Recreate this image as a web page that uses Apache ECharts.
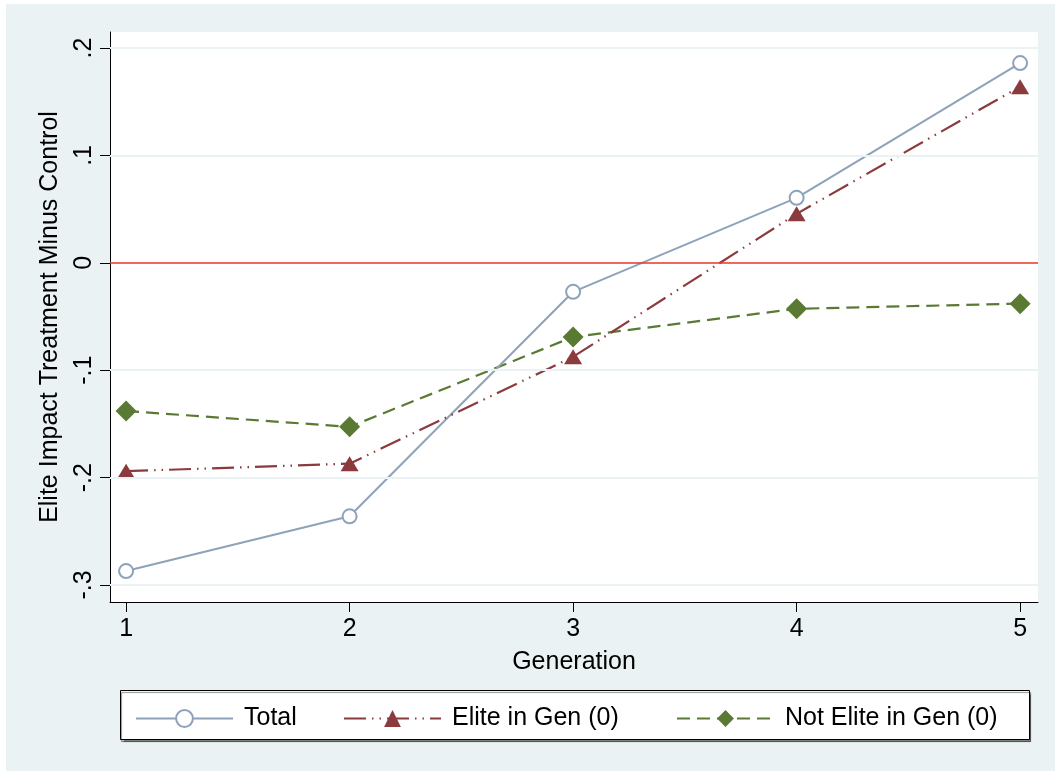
<!DOCTYPE html>
<html><head><meta charset="utf-8">
<script src="https://cdn.jsdelivr.net/npm/echarts@6/dist/echarts.min.js"></script>
<style>html,body{margin:0;padding:0;background:#fff;}#c{width:1055px;height:771px;}</style>
</head><body><div id="c"></div>
<script>
const generations = [1, 2, 3, 4, 5];
const yTicks = [-0.3, -0.2, -0.1, 0, 0.1, 0.2];
const totalValues = [-0.287, -0.236, -0.027, 0.0605, 0.186];
const eliteValues = [-0.194, -0.187, -0.0875, 0.0456, 0.164];
const notEliteValues = [-0.138, -0.1527, -0.069, -0.0428, -0.038];
const seriesNames = ['Total', 'Elite in Gen (0)', 'Not Elite in Gen (0)'];

const FONT = 'Liberation Sans, Arial, Helvetica, sans-serif';
const BG = '#EAF2F3';
const pair = (xs, ys) => xs.map((x, i) => [x, ys[i]]);
const fmtY = v => { const r = Math.round(v * 10) / 10; if (r === 0) return '0'; return (r < 0 ? '-' : '') + String(Math.abs(r)).replace(/^0/, ''); };

const chart = echarts.init(document.getElementById('c'), null, {renderer: 'canvas'});
const legendCommon = {
  top: 701, itemWidth: 97, itemHeight: 21, itemGap: 0,
  textStyle: {fontFamily: FONT, fontSize: 25, color: '#000', padding: [0, 0, 0, 6]}
};
chart.setOption({
  backgroundColor: 'transparent',
  animation: false,
  graphic: [
    {type: 'rect', z: -10, shape: {x: 6, y: 4, width: 1049, height: 767}, style: {fill: BG}},
    {type: 'rect', z: -9, shape: {x: 110, y: 32, width: 928, height: 570}, style: {fill: '#fff'}},
    {type: 'rect', z: -8, shape: {x: 120.5, y: 690.5, width: 909, height: 49}, style: {fill: '#fff', stroke: '#000', lineWidth: 1, shadowColor: 'rgba(0,0,0,0.45)', shadowOffsetX: 1, shadowOffsetY: 2, shadowBlur: 1}}
  ],
  grid: {left: 110, right: 17, top: 32, bottom: 169, containLabel: false},
  legend: [
    Object.assign({left: 130, data: [seriesNames[0]]}, legendCommon),
    Object.assign({left: 338, data: [seriesNames[1]]}, legendCommon),
    Object.assign({left: 671, data: [seriesNames[2]]}, legendCommon)
  ],
  xAxis: {
    type: 'value', min: 0.928, max: 5.08,
    name: 'Generation', nameLocation: 'middle', nameGap: 48,
    nameTextStyle: {fontFamily: FONT, fontSize: 25, color: '#000'},
    axisLine: {show: true, onZero: false, lineStyle: {color: '#000', width: 1}},
    axisTick: {show: true, length: 10, customValues: generations, lineStyle: {color: '#000'}},
    axisLabel: {customValues: generations, margin: 15, fontFamily: FONT, fontSize: 25, color: '#000', formatter: v => String(Math.round(v))},
    splitLine: {show: false}
  },
  yAxis: {
    type: 'value', min: -0.3158, max: 0.2149,
    name: 'Elite Impact Treatment Minus Control', nameLocation: 'middle', nameGap: 47, nameRotate: 90,
    nameTextStyle: {fontFamily: FONT, fontSize: 25, color: '#000'},
    axisLine: {show: true, onZero: false, lineStyle: {color: '#000', width: 1}},
    axisTick: {show: true, length: 10, customValues: yTicks, lineStyle: {color: '#000'}},
    axisLabel: {customValues: yTicks, rotate: 90, margin: 13, fontFamily: FONT, fontSize: 25, color: '#000', formatter: fmtY},
    splitLine: {show: false}
  },
  series: [
    {
      type: 'line', name: '_grid', data: [], z: 1, silent: true,
      markLine: {
        silent: true, symbol: 'none', label: {show: false}, animation: false,
        data: yTicks.filter(v => v !== 0).map(v => ({yAxis: v, lineStyle: {color: BG, width: 2, type: 'solid'}}))
          .concat([{yAxis: 0, lineStyle: {color: '#E8362B', width: 1.6, type: 'solid'}}])
      }
    },
    {
      type: 'line', name: seriesNames[0], data: pair(generations, totalValues), z: 3,
      symbol: 'emptyCircle', symbolSize: 14,
      lineStyle: {color: '#8EA2BA', width: 2, type: 'solid'},
      itemStyle: {color: '#8EA2BA', borderColor: '#8EA2BA', borderWidth: 2}
    },
    {
      type: 'line', name: seriesNames[1], data: pair(generations, eliteValues), z: 4,
      symbol: 'triangle', symbolSize: [18, 15],
      lineStyle: {color: '#8B3A3D', width: 2.2, type: [22, 6, 1.5, 6, 1.5, 6]},
      itemStyle: {color: '#8B3A3D', borderWidth: 0}
    },
    {
      type: 'line', name: seriesNames[2], data: pair(generations, notEliteValues), z: 2,
      symbol: 'diamond', symbolSize: [21, 21],
      lineStyle: {color: '#5A7A34', width: 2.2, type: [13, 7]},
      itemStyle: {color: '#5A7A34', borderWidth: 0}
    }
  ]
});
</script></body></html>
